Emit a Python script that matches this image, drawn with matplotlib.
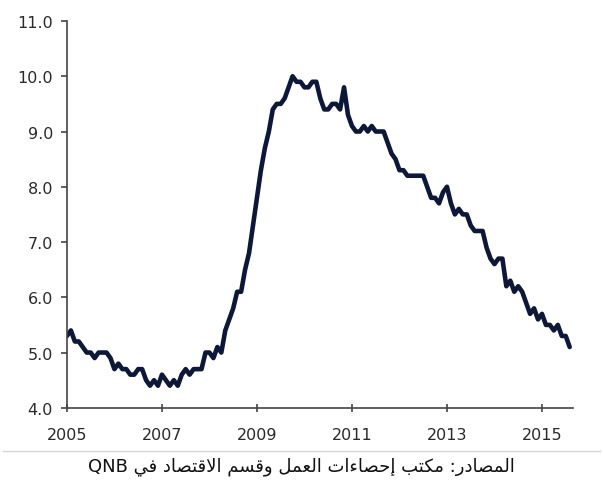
import numpy as np
import matplotlib
matplotlib.use('Agg')
from matplotlib import pyplot as plt

# US unemployment rate (%), monthly, Jan 2005 - Aug 2015
start_year = 2005
rates = [
    5.3, 5.4, 5.2, 5.2, 5.1, 5.0, 5.0, 4.9, 5.0, 5.0, 5.0, 4.9,   # 2005
    4.7, 4.8, 4.7, 4.7, 4.6, 4.6, 4.7, 4.7, 4.5, 4.4, 4.5, 4.4,   # 2006
    4.6, 4.5, 4.4, 4.5, 4.4, 4.6, 4.7, 4.6, 4.7, 4.7, 4.7, 5.0,   # 2007
    5.0, 4.9, 5.1, 5.0, 5.4, 5.6, 5.8, 6.1, 6.1, 6.5, 6.8, 7.3,   # 2008
    7.8, 8.3, 8.7, 9.0, 9.4, 9.5, 9.5, 9.6, 9.8, 10.0, 9.9, 9.9,  # 2009
    9.8, 9.8, 9.9, 9.9, 9.6, 9.4, 9.4, 9.5, 9.5, 9.4, 9.8, 9.3,   # 2010
    9.1, 9.0, 9.0, 9.1, 9.0, 9.1, 9.0, 9.0, 9.0, 8.8, 8.6, 8.5,   # 2011
    8.3, 8.3, 8.2, 8.2, 8.2, 8.2, 8.2, 8.0, 7.8, 7.8, 7.7, 7.9,   # 2012
    8.0, 7.7, 7.5, 7.6, 7.5, 7.5, 7.3, 7.2, 7.2, 7.2, 6.9, 6.7,   # 2013
    6.6, 6.7, 6.7, 6.2, 6.3, 6.1, 6.2, 6.1, 5.9, 5.7, 5.8, 5.6,   # 2014
    5.7, 5.5, 5.5, 5.4, 5.5, 5.3, 5.3, 5.1,                       # 2015
]
year_ticks = [2005, 2007, 2009, 2011, 2013, 2015]
rate_ticks = [4.0, 5.0, 6.0, 7.0, 8.0, 9.0, 10.0, 11.0]
source = 'المصادر: مكتب إحصاءات العمل وقسم الاقتصاد في'
source_latin = 'QNB'

# minimal arabic shaping (matplotlib has no complex text layout)
forms = {  # isolated, final, initial, medial
    'ا': (0xFE8D, 0xFE8E, None, None), 'أ': (0xFE83, 0xFE84, None, None),
    'إ': (0xFE87, 0xFE88, None, None), 'د': (0xFEA9, 0xFEAA, None, None),
    'ر': (0xFEAD, 0xFEAE, None, None), 'و': (0xFEED, 0xFEEE, None, None),
    'ب': (0xFE8F, 0xFE90, 0xFE91, 0xFE92), 'ت': (0xFE95, 0xFE96, 0xFE97, 0xFE98),
    'ح': (0xFEA1, 0xFEA2, 0xFEA3, 0xFEA4), 'س': (0xFEB1, 0xFEB2, 0xFEB3, 0xFEB4),
    'ص': (0xFEB9, 0xFEBA, 0xFEBB, 0xFEBC), 'ع': (0xFEC9, 0xFECA, 0xFECB, 0xFECC),
    'ف': (0xFED1, 0xFED2, 0xFED3, 0xFED4), 'ق': (0xFED5, 0xFED6, 0xFED7, 0xFED8),
    'ك': (0xFED9, 0xFEDA, 0xFEDB, 0xFEDC), 'ل': (0xFEDD, 0xFEDE, 0xFEDF, 0xFEE0),
    'م': (0xFEE1, 0xFEE2, 0xFEE3, 0xFEE4), 'ي': (0xFEF1, 0xFEF2, 0xFEF3, 0xFEF4),
    'ء': (0xFE80, None, None, None),
}


def shape(text):
    # lam + alef ligature
    chars = []
    i = 0
    while i < len(text):
        if text[i] == 'ل' and i + 1 < len(text) and text[i + 1] == 'ا':
            chars.append('LA')
            i += 2
        else:
            chars.append(text[i])
            i += 1

    def joins_next(c):
        return c in forms and forms[c][2] is not None

    def is_ar(c):
        return c == 'LA' or c in forms

    out = []
    for k, c in enumerate(chars):
        prev = chars[k - 1] if k > 0 else None
        nxt = chars[k + 1] if k + 1 < len(chars) else None
        from_prev = prev is not None and joins_next(prev)
        if c == 'LA':
            out.append(chr(0xFEFC if from_prev else 0xFEFB))
            continue
        if c not in forms:
            out.append(c)
            continue
        to_next = joins_next(c) and nxt is not None and is_ar(nxt)
        iso, fin, ini, med = forms[c]
        if from_prev and to_next:
            out.append(chr(med))
        elif from_prev and fin:
            out.append(chr(fin))
        elif to_next:
            out.append(chr(ini))
        else:
            out.append(chr(iso))
    return ''.join(out)[::-1]


months = np.arange(len(rates))
x = start_year + months / 12.0

fig = plt.figure(figsize=(6.03, 4.89), dpi=100)
ax = fig.add_axes([0.111, 0.164, 0.839, 0.791])
ax.plot(x, rates, color='#0d1838', linewidth=3.3, solid_joinstyle='round',
        solid_capstyle='round')

ax.set_xlim(2005, 2015.65)
ax.set_ylim(4.0, 11.0)
ax.set_xticks(year_ticks)
ax.set_yticks(rate_ticks)
ax.set_yticklabels(['%.1f' % v for v in rate_ticks])
for s in ['top', 'right']:
    ax.spines[s].set_visible(False)
for s in ['left', 'bottom']:
    ax.spines[s].set_color('#444444')
    ax.spines[s].set_linewidth(1.2)
ax.tick_params(axis='y', direction='out', length=4, width=1.2, color='#444444',
               labelsize=11.5, labelcolor='#2a2a2a', pad=6)
ax.tick_params(axis='x', direction='inout', length=6, width=1.2, color='#444444',
               labelsize=11.5, labelcolor='#2a2a2a', pad=11)

# separator line and source caption
fig.add_artist(plt.Line2D([0.005, 0.995], [1 - 452 / 489, 1 - 452 / 489],
                          color='#d6d6d6', linewidth=1.0))
fig.text(0.5, 1 - 467 / 489, source_latin + ' ' + shape(source),
         ha='center', va='center', fontsize=13, color='#111111',
         family='DejaVu Sans')

plt.savefig('out.png', dpi=100)
